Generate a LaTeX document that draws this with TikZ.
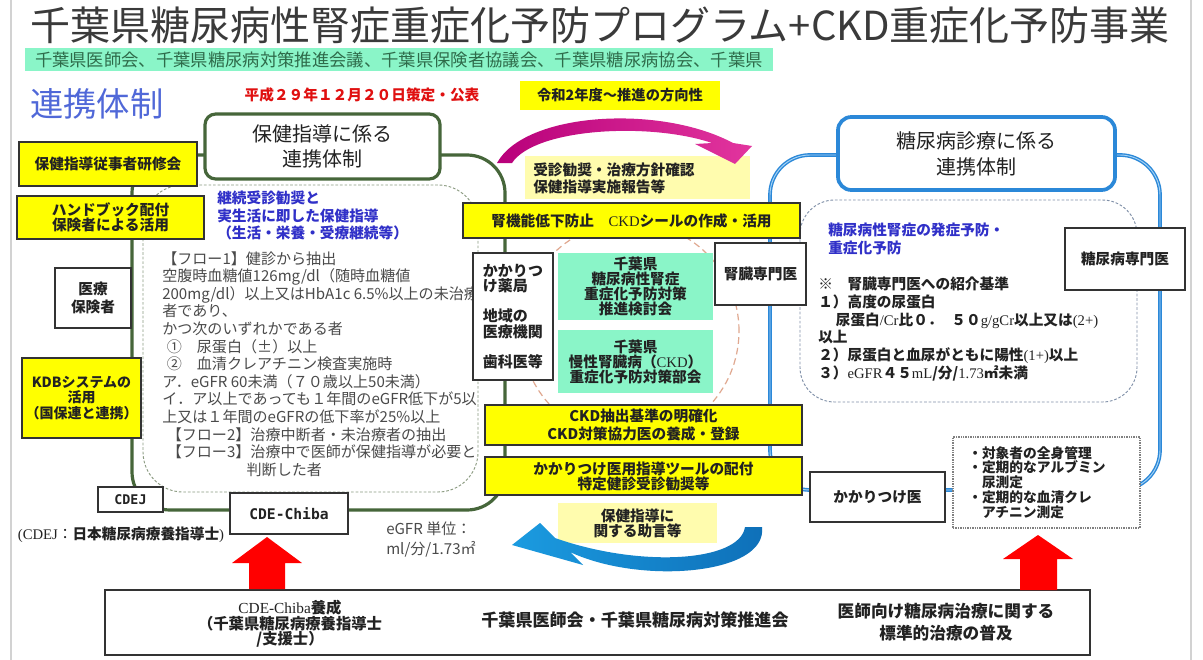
\documentclass[tikz,border=0pt]{standalone}
\usepackage{fontspec}
\setmainfont{Noto Sans CJK JP}
\newfontfamily\ser{Liberation Serif}
\newfontfamily\mono{DejaVu Sans Mono}
\newcommand\myfs[2]{\fontsize{#1pt}{#2pt}\selectfont}
% box: style, name, x1, y1, x2, y2, text  (pixel coordinates)
\newcommand\bx[7]{\node[#1, minimum width={(#5-#3)*0.75pt}, minimum height={(#6-#4)*0.75pt}] (#2) at ({(#3+#5)/2},{(#4+#6)/2}) {#7};}
\definecolor{gfr}{HTML}{46663A}
\definecolor{bfr}{HTML}{2B88D8}
\definecolor{bfrl}{HTML}{A8D4F5}
\definecolor{bdr}{HTML}{333333}
\definecolor{tx}{HTML}{222222}
\definecolor{txg}{HTML}{4A4A4A}
\definecolor{yel}{HTML}{FFFF00}
\definecolor{pale}{HTML}{FFFCAE}
\definecolor{mint}{HTML}{8AF5C8}
\definecolor{bannertx}{HTML}{2E6B4A}
\definecolor{titlec}{HTML}{3A3A3A}
\definecolor{renc}{HTML}{5068D8}
\definecolor{blu}{HTML}{3030C8}
\definecolor{redt}{HTML}{E01010}
\definecolor{gdash}{HTML}{8A9A80}
\definecolor{bdash}{HTML}{8090A8}
\definecolor{circ}{HTML}{E0A890}
\definecolor{magA}{HTML}{B8007A}
\definecolor{magB}{HTML}{E2359E}
\definecolor{bluA}{HTML}{1B9BE0}
\definecolor{bluB}{HTML}{0E6FB8}
\begin{document}
\begin{tikzpicture}[x=0.75pt,y=-0.75pt,
  box/.style={draw=bdr, line width=0.9pt, inner sep=0pt, align=center, font=\bfseries\myfs{11}{13.5}, text=tx},
  ybox/.style={box, fill=yel},
  wbox/.style={box, fill=white},
  mbox/.style={box, draw=none, fill=mint},
  pbox/.style={box, draw=none, fill=pale},
  gframe/.style={draw=gfr, line width=2.4pt},
  bframe/.style={draw=bfr, line width=2.8pt},
  txt/.style={inner sep=0pt, align=left, anchor=west},
]
\useasboundingbox (0,0) rectangle (1203,660);
\fill[white] (0,0) rectangle (1203,660);
\draw[gray!35, line width=1.2pt] (11,0) -- (11,660);
\draw[gray!35, line width=1.2pt] (1191,0) -- (1191,660);

% title and banner
\node[font=\myfs{30}{36}, text=titlec, inner sep=0pt] (title) at (600,25) {千葉県糖尿病性腎症重症化予防プログラム+CKD重症化予防事業};
\bx{fill=mint, inner sep=0pt, font=\myfs{13}{15}, text=bannertx}{banner}{25}{48}{773}{71}{千葉県医師会、千葉県糖尿病対策推進会議、千葉県保険者協議会、千葉県糖尿病協会、千葉県}
\node[font=\myfs{25}{30}, text=renc, inner sep=0pt] (renkei) at (97,104) {連携体制};
\node[font=\bfseries\myfs{11}{13}, text=redt, inner sep=0pt] (sakutei) at (362,95) {平成２９年１２月２０日策定・公表};
\bx{fill=yel, inner sep=0pt, font=\bfseries\myfs{10.7}{12}, text=tx}{reiwa}{520}{81}{720}{110}{令和2年度～推進の方向性}

% frames
\draw[gframe, rounded corners=28.5pt] (132,155) rectangle (505,510);
\draw[bframe, rounded corners=30pt] (770,155) rectangle (1160,490);
\draw[bfrl, line width=0.7pt, rounded corners=30pt] (770,155) rectangle (1160,490);
\draw[gdash, line width=0.7pt, dash pattern=on 2pt off 1.4pt, rounded corners=30pt] (143,185) rectangle (478,492);
\draw[bdash, line width=0.7pt, dash pattern=on 2pt off 1.4pt, rounded corners=26pt] (800,200) rectangle (1137,402);
\draw[circ, line width=0.9pt, dash pattern=on 5pt off 3pt] (630,331) circle[radius=81.75pt];

% headers
\bx{draw=gfr, line width=2.4pt, rounded corners=8pt, fill=white, inner sep=0pt, align=center, font=\myfs{15}{18.75}, text=tx}{ghead}{205}{114}{440}{179}{保健指導に係る\\連携体制}
\bx{draw=bfr, line width=2.8pt, rounded corners=10pt, fill=white, inner sep=0pt, align=center, font=\myfs{15}{19.5}, text=tx}{bhead}{838}{117}{1115}{190}{糖尿病診療に係る\\連携体制}

% left column
\bx{ybox}{kenshu}{19}{142}{197}{186}{保健指導従事者研修会}
\bx{ybox, font=\bfseries\myfs{11}{11.5}}{handbook}{17}{196}{204}{239}{ハンドブック配付\\保険者による活用}
\bx{wbox, font=\bfseries\myfs{11}{12.8}}{hokensha}{55}{268}{131}{328}{医療\\保険者}
\bx{ybox, font=\bfseries\myfs{10.5}{11.7}}{kdb}{22}{358}{141}{438}{KDBシステムの\\活用\\（国保連と連携）}
\bx{wbox, font=\mono\bfseries\myfs{10}{12}}{cdej}{98}{487}{163}{512}{CDEJ}
\bx{wbox, font=\mono\bfseries\myfs{11}{13}}{cdechiba}{230}{493}{348}{534}{CDE-Chiba}
\node[font=\bfseries\myfs{11}{13}, text=tx, inner sep=0pt] (cdejnote) at (121,535) {{\ser\mdseries (CDEJ}\mdseries：\bfseries 日本糖尿病療養指導士{\ser\mdseries )}};
\node[txt, font=\myfs{11.3}{15}, text=txg] (egfrunit) at (386,540) {eGFR 単位：\\ml/分/1.73㎡};

% text in left dashed box
\node[txt, font=\bfseries\myfs{11}{13.1}, text=blu] (keizoku) at (217,215.5) {継続受診勧奨と\\実生活に即した保健指導\\（生活・栄養・受療継続等）};
\node[txt, font=\myfs{11.3}{13.2}, text=txg] (flow) at (162,364) {【フロー1】健診から抽出\\空腹時血糖値126mg/dl（随時血糖値\\200mg/dl）以上又はHbA1c 6.5\%以上の未治療\\者であり、\\かつ次のいずれかである者\\\hspace*{0.3em}①\hspace*{1em}尿蛋白（±）以上\\\hspace*{0.3em}②\hspace*{1em}血清クレアチニン検査実施時\\ア．eGFR 60未満（７０歳以上50未満）\\イ．ア以上であっても１年間のeGFR低下が5以\\上又は１年間のeGFRの低下率が25\%以上\\\hspace*{0.3em}【フロー2】治療中断者・未治療者の抽出\\\hspace*{0.3em}【フロー3】治療中で医師が保健指導が必要と\\\hspace*{5.6em}判断した者};

% central column
\bx{pbox}{jushin}{525}{156}{750}{199}{}
\node[txt, font=\bfseries\myfs{11}{13}, text=tx] (jushintx) at (533,178.5) {受診勧奨・治療方針確認\\保健指導実施報告等};
\shade[left color=magA, right color=magB] (497,163) .. controls (525,112) and (660,104) .. (733,143) -- (752,146) -- (735,164) -- (695,144) -- (712,143) .. controls (650,122) and (535,128) .. (512,163) -- cycle;
\bx{ybox}{seal}{463}{203}{800}{238}{腎機能低下防止\quad{\ser\mdseries CKD}シールの作成・活用}
\bx{wbox, align=left, font=\bfseries\myfs{11.25}{11.6}}{yakkyoku}{473}{253}{553}{380}{かかりつ\\け薬局\\[11pt]地域の\\医療機関\\[11pt]歯科医等}
\bx{mbox, font=\bfseries\myfs{11}{11.25}}{kentou}{558}{253}{713}{320}{千葉県\\糖尿病性腎症\\重症化予防対策\\推進検討会}
\bx{mbox, font=\bfseries\myfs{11}{11.25}}{bukai}{558}{330}{713}{393}{千葉県\\慢性腎臓病（{\ser\mdseries CKD}）\\重症化予防対策部会}
\bx{wbox}{jinzo}{715}{243}{806}{305}{腎臓専門医}
\bx{ybox}{ckdkijun}{485}{405}{802}{445}{CKD抽出基準の明確化\\CKD対策協力医の養成・登録}
\bx{ybox, font=\bfseries\myfs{11}{11.25}}{tool}{485}{457}{802}{495}{かかりつけ医用指導ツールの配付\\特定健診受診勧奨等}
\bx{pbox, font=\bfseries\myfs{11}{11.25}}{jogen}{558}{503}{717}{543}{保健指導に\\関する助言等}
\shade[left color=bluA, right color=bluB] (745,527) .. controls (740,562) and (640,568) .. (555,538) -- (540,523) -- (512,545) -- (583,565) -- (570,552) .. controls (640,585) and (768,575) .. (762,527) -- cycle;

% right column
\bx{wbox}{tonyo}{1065}{228}{1185}{290}{糖尿病専門医}
\node[txt, font=\bfseries\myfs{11}{13.5}, text=blu] (hassho) at (828,239) {糖尿病性腎症の発症予防・\\重症化予防};
\node[txt, font=\bfseries\myfs{11}{13.3}, text=tx] (kijun) at (818,329) {※\hspace*{1em}腎臓専門医への紹介基準\\１）高度の尿蛋白\\\hspace*{1.2em}尿蛋白{\ser\mdseries /Cr}比０．\hspace*{0.6em}５０{\ser\mdseries g/gCr}以上又は{\ser\mdseries (2+)}\\以上\\２）尿蛋白と血尿がともに陽性{\ser\mdseries (1+)}以上\\３）{\ser\mdseries eGFR}４５{\ser\mdseries mL}/分/{\ser\mdseries 1.73}㎡未満};
\bx{wbox}{kakari}{810}{472}{945}{522}{かかりつけ医}
\bx{box, fill=white, draw=gray, dash pattern=on 1pt off 0.8pt}{kanri}{953}{437}{1140}{528}{}
\node[txt, font=\bfseries\myfs{10.3}{11.1}, text=tx] (kanritx) at (968,482.5) {・対象者の全身管理\\・定期的なアルブミン\\\hspace*{1em}尿測定\\・定期的な血清クレ\\\hspace*{1em}アチニン測定};

% bottom
\bx{wbox}{bottom}{105}{590}{1090}{655}{}
\node[font=\bfseries\myfs{11.5}{11.6}, align=center, text=tx, inner sep=0pt] (cdeyosei) at (290,624) {{\ser\mdseries CDE-Chiba}養成\\（千葉県糖尿病療養指導士\\/支援士）};
\node[font=\bfseries\myfs{12.8}{15}, text=tx, inner sep=0pt] (ishikai) at (635,620) {千葉県医師会・千葉県糖尿病対策推進会};
\node[font=\bfseries\myfs{12.5}{16.5}, align=center, text=tx, inner sep=0pt] (fukyu) at (946,622) {医師向け糖尿病治療に関する\\標準的治療の普及};

% red block arrows
\fill[red] (249,589) -- (249,563) -- (232,563) -- (267,537) -- (302,563) -- (285,563) -- (285,589) -- cycle;
\fill[red] (1020,590) -- (1020,559) -- (1003,559) -- (1038,535) -- (1073,559) -- (1057,559) -- (1057,590) -- cycle;
\end{tikzpicture}
\end{document}
